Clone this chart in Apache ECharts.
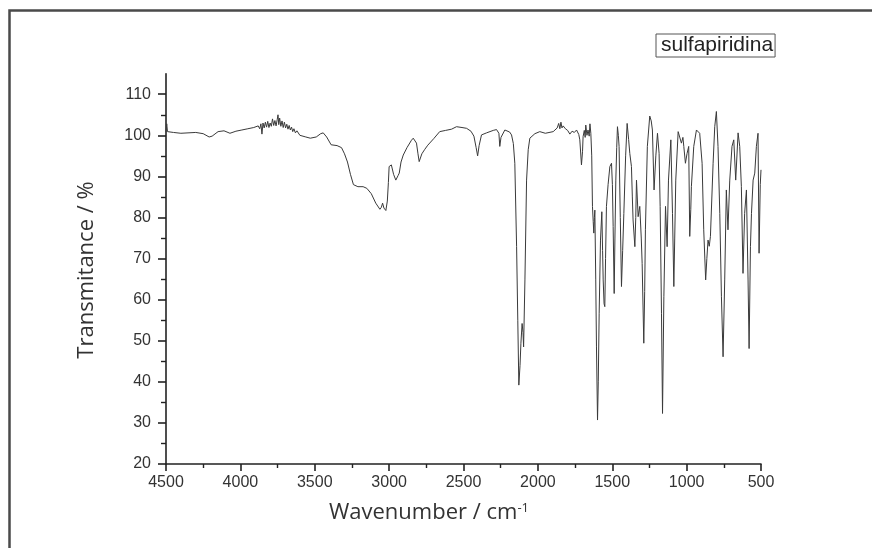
<!DOCTYPE html>
<html>
<head>
<meta charset="utf-8">
<script src="https://cdn.jsdelivr.net/npm/echarts@6/dist/echarts.min.js"></script>
<style>html,body{margin:0;padding:0;background:#fff}#c{width:872px;height:548px}</style>
</head>
<body>
<div id="c"></div>
<script>
const seriesName = 'sulfapiridina';
const wavenumbers = [4500,4495,4490,4450,4400,4300,4250,4210,4190,4150,4110,4070,4030,3990,3950,3910,3880,3870,3862,3855,3848,3840,3832,3824,3816,3808,3800,3792,3784,3776,3768,3760,3752,3747,3742,3736,3728,3720,3712,3704,3696,3688,3680,3672,3664,3656,3648,3640,3630,3620,3600,3560,3530,3490,3460,3443,3420,3390,3350,3320,3300,3280,3260,3240,3210,3175,3150,3120,3090,3062,3052,3044,3035,3022,3012,3005,3000,2985,2970,2955,2940,2932,2920,2905,2880,2850,2838,2825,2816,2806,2798,2780,2760,2740,2700,2660,2620,2580,2547,2510,2479,2450,2430,2415,2405,2395,2379,2345,2300,2278,2262,2256,2248,2222,2190,2177,2165,2155,2143,2135,2128,2120,2114,2106,2100,2096,2087,2076,2065,2054,2020,1987,1950,1897,1870,1860,1852,1845,1838,1830,1815,1800,1785,1770,1755,1740,1725,1718,1707,1700,1696,1688,1682,1678,1670,1663,1655,1650,1644,1638,1633,1628,1624,1620,1617,1611,1606,1599,1594,1588,1579,1570,1565,1561,1555,1550,1545,1539,1528,1516,1505,1499,1494,1487,1482,1476,1470,1465,1459,1454,1446,1438,1430,1422,1410,1400,1390,1382,1371,1365,1360,1348,1342,1337,1326,1315,1305,1299,1288,1282,1277,1264,1248,1238,1230,1219,1207,1196,1185,1178,1169,1162,1153,1142,1131,1122,1106,1095,1086,1080,1073,1057,1046,1035,1025,1019,1008,997,986,979,972,968,952,934,912,896,885,872,864,856,848,840,822,811,800,789,777,766,755,744,733,722,710,695,683,670,654,643,632,621,610,598,587,580,571,564,553,542,531,520,513,505,500];
const transmittance = [100.8,102.8,100.9,100.7,100.5,100.7,100.4,99.6,99.8,100.9,101.1,100.5,101.0,101.3,101.6,101.9,102.3,101.6,102.8,100.3,103.0,101.8,103.2,102.0,103.4,101.9,103.0,102.2,104.0,102.4,103.6,102.3,103.9,105.0,102.6,104.2,102.2,103.5,101.9,103.2,101.8,102.7,101.5,102.4,101.3,102.0,100.9,101.6,100.6,101.1,100.0,99.6,99.3,99.6,100.4,100.6,99.6,97.7,97.5,97.0,95.5,93.5,90.5,88.0,87.5,87.5,87.1,85.8,83.5,82.0,82.5,83.5,82.3,81.7,84,88.5,92.4,92.8,90.5,89.1,90.2,90.8,93.5,95.2,97.0,98.8,99.3,99.0,98.1,95.5,93.6,95.5,96.6,97.6,99.2,100.9,101.2,101.5,102.1,101.9,101.7,101.0,99.8,97.0,95.0,97.5,100.1,100.6,101.2,101.4,100.5,97.3,99.5,101.3,100.8,100.1,98,93.2,72.9,55,39.2,44,49.4,54.2,52,48.5,64.8,89.1,96.5,99.3,100.4,100.9,100.5,100.9,101.8,102.9,101.6,103.2,101.8,102.3,101.6,101.2,100.3,101.0,100.7,101.3,100.2,98.9,92.8,96.0,99.7,101.2,99.5,102.5,100.0,101.3,99.8,102.8,100.5,95,82.7,79,76.2,80,81.8,65,48.5,30.7,40,56.7,74.5,81.4,72,64.8,59,58.3,70,82.7,88,92.4,93.2,88,77.8,61.5,75,89.1,97,102.1,100,97.3,80,63.2,72,81.0,95,102.9,99,95.6,92.4,85,79.4,72.9,80,89.1,80.2,82.7,75,68.8,49.4,62,77.0,97.3,104.7,103.5,101.3,86.7,95.0,100.5,95.6,82.7,56.7,32.3,60.7,82.7,72.9,89.1,98.9,81.0,63.2,75,89.1,100.9,101.3,98.1,99.5,97.3,93.2,95.6,97.3,75.4,82,87.5,97.3,101.3,100.5,93.2,77.0,64.8,70,74.5,73,75.4,93.2,102.1,105.8,97.3,81.0,60.7,46.1,64.8,86.7,77.0,89.1,97.3,98.9,89.1,100.6,97.3,87.5,66.4,81.0,86.7,64.8,48.1,72.9,81.0,89.1,90.8,97.3,100.5,71.3,88,91.6];
const xTicks = [4500,4000,3500,3000,2500,2000,1500,1000,500];
const yTicks = [20,30,40,50,60,70,80,90,100,110];
const yMinorTicks = [25,35,45,55,65,75,85,95,105];

const points = wavenumbers.map((w, i) => [w, transmittance[i]]);
const chart = echarts.init(document.getElementById('c'), null, {renderer: 'canvas'});
const axisColor = '#222';
const labelStyle = {color: '#333', fontFamily: 'Liberation Sans', fontSize: 16, formatter: v => String(v)};
chart.setOption({
  animation: false,
  backgroundColor: '#fff',
  grid: {left: 166, right: 111, top: 73.7, bottom: 84, containLabel: false, outerBoundsMode: 'none'},
  legend: {
    data: [seriesName], left: 656, top: 34, icon: 'none', itemWidth: 0, itemHeight: 14,
    padding: [1, 2, 1, 0], borderColor: '#555', borderWidth: 1,
    textStyle: {color: '#222', fontFamily: 'Liberation Sans', fontSize: 21, lineHeight: 21}
  },
  xAxis: {
    type: 'value', inverse: true, min: 500, max: 4500, interval: 500,
    axisLine: {show: true, lineStyle: {color: axisColor, width: 1.6}},
    axisTick: {show: true, length: 7, lineStyle: {color: axisColor, width: 1.6}, customValues: xTicks},
    minorTick: {show: true, splitNumber: 2, length: 4, lineStyle: {color: axisColor, width: 1.4}},
    axisLabel: Object.assign({margin: 11, customValues: xTicks}, labelStyle),
    splitLine: {show: false}, minorSplitLine: {show: false}
  },
  yAxis: [{
    type: 'value', min: 20, max: 115, interval: 10,
    axisLine: {show: true, lineStyle: {color: axisColor, width: 1.6}},
    axisTick: {show: true, length: 8, lineStyle: {color: axisColor, width: 1.6}, customValues: yTicks},
    axisLabel: Object.assign({margin: 15, customValues: yTicks}, labelStyle),
    splitLine: {show: false}
  }, {
    type: 'value', position: 'left', min: 20, max: 115, interval: 5,
    axisLine: {show: false},
    axisTick: {show: true, length: 5, lineStyle: {color: axisColor, width: 1.4}, customValues: yMinorTicks},
    axisLabel: {show: false}, splitLine: {show: false}
  }],
  series: [{
    name: seriesName, type: 'line', data: points, showSymbol: false, symbol: 'none',
    lineStyle: {color: '#3a3a3a', width: 1}, itemStyle: {color: '#3a3a3a'}, clip: true
  }],
  graphic: [
    {type: 'rect', shape: {x: 9.5, y: 10.5, width: 900, height: 600}, style: {fill: 'none', stroke: '#4a4a4a', lineWidth: 2.5}, silent: true},
    {type: 'text', x: 429, y: 513, style: {
      text: 'Wavenumber / cm{sup|-1}', fill: '#333', font: '22px "Open Sans"', textAlign: 'center', textVerticalAlign: 'middle',
      rich: {sup: {fontSize: 13, fontFamily: 'Open Sans', verticalAlign: 'top', fill: '#333', padding: [0, 0, 9, 0]}}
    }},
    {type: 'text', x: 87, y: 270, rotation: Math.PI / 2, style: {
      text: 'Transmitance / %', fill: '#333', font: '22px "Open Sans"', textAlign: 'center', textVerticalAlign: 'middle'
    }}
  ]
});
</script>
</body>
</html>
